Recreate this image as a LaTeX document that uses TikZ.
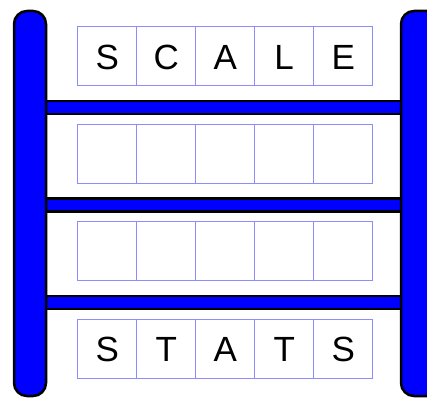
\documentclass[tikz,border=0pt]{standalone}
\usepackage{fontspec}
\setmainfont{Liberation Sans}
\begin{document}
\begin{tikzpicture}[x=1pt,y=-1pt,
  post/.style={draw=black,line width=2.5pt,fill=blue,rounded corners=13pt},
  bar/.style={draw=black,line width=2.5pt,fill=blue},
  cell/.style={draw=blue!45,line width=1.4pt,minimum width=59pt,minimum height=59pt,inner sep=0pt,anchor=north west},
  letter/.style={font=\fontsize{35}{35}\selectfont,yshift=-1pt}]
\useasboundingbox (0,0) rectangle (427,401);
\clip (0,0) rectangle (427,401);
% bars
\draw[bar] (40,101) rectangle (405,114);
\draw[bar] (40,198.5) rectangle (405,211.5);
\draw[bar] (40,296) rectangle (405,309);
% posts
\draw[post] (14,11) rectangle (46,396);
\draw[post] (401,11) rectangle (440,396);
% cells
\foreach \r/\y in {1/26,2/123.5,3/221,4/318.5}{
  \foreach \c in {1,...,5}{
    \node[cell] (c\r\c) at ({77+(\c-1)*59},\y) {};
  }
}
\foreach \c/\t in {1/S,2/C,3/A,4/L,5/E}{\node[letter] (t1\c) at (c1\c.center) {\t};}
\foreach \c/\t in {1/S,2/T,3/A,4/T,5/S}{\node[letter] (t4\c) at (c4\c.center) {\t};}
\end{tikzpicture}
\end{document}
